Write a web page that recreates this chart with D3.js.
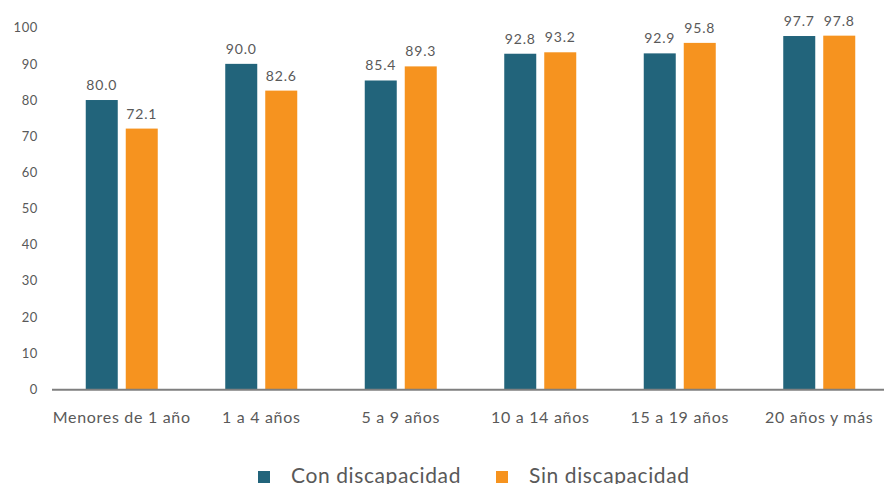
<!DOCTYPE html>
<html>
<head>
<meta charset="utf-8">
<script src="https://cdn.jsdelivr.net/npm/d3@7"></script>
<style>
  html, body { margin: 0; padding: 0; background: #fff; }
  svg { display: block; font-family: "Lato", "Open Sans", sans-serif; }
</style>
</head>
<body>
<svg id="chart" width="884" height="484"></svg>
<script>
// Age groups and percentages for each series
const categories = ["Menores de 1 año", "1 a 4 años", "5 a 9 años", "10 a 14 años", "15 a 19 años", "20 años y más"];
const conDiscapacidad = [80.0, 90.0, 85.4, 92.8, 92.9, 97.7];
const sinDiscapacidad = [72.1, 82.6, 89.3, 93.2, 95.8, 97.8];
const seriesNames = ["Con discapacidad", "Sin discapacidad"];
const seriesColors = ["#22647b", "#f6931f"];
const yTicks = [0, 10, 20, 30, 40, 50, 60, 70, 80, 90, 100];

const series = [conDiscapacidad, sinDiscapacidad];
const svg = d3.select("#chart");
const textColor = "#595959";

const x = d3.scaleBand().domain(categories).range([52, 889]).paddingInner(0).paddingOuter(0);
const x1 = d3.scaleBand().domain(d3.range(series.length)).range([x.bandwidth() / 2 - 36, x.bandwidth() / 2 + 36]).paddingInner(0.2);
const y = d3.scaleLinear().domain([0, 100]).range([389.3, 27.7]);

// Y axis labels (no axis line)
const yAxis = svg.append("g")
  .attr("transform", "translate(44,0)")
  .call(d3.axisLeft(y).tickValues(yTicks).tickSize(0).tickPadding(6).tickFormat(d3.format("d")));
yAxis.select(".domain").remove();
yAxis.selectAll("text")
  .attr("fill", textColor)
  .style("font-size", "13px")
  .style("letter-spacing", "0.6px")
  .style("font-family", "Lato, sans-serif");

// Bars
const groups = svg.append("g").selectAll("g")
  .data(categories)
  .join("g")
  .attr("transform", d => `translate(${x(d)},0)`);

groups.selectAll("rect")
  .data((d, i) => series.map((s, k) => ({ k, v: s[i] })))
  .join("rect")
  .attr("x", d => x1(d.k))
  .attr("width", x1.bandwidth())
  .attr("y", d => y(d.v))
  .attr("height", d => y(0) - y(d.v))
  .attr("fill", d => seriesColors[d.k]);

// Value labels
groups.selectAll("text")
  .data((d, i) => series.map((s, k) => ({ k, v: s[i] })))
  .join("text")
  .attr("x", d => x1(d.k) + x1.bandwidth() / 2)
  .attr("y", d => y(d.v) - 10)
  .attr("text-anchor", "middle")
  .attr("fill", textColor)
  .style("font-size", "14px")
  .style("letter-spacing", "0.8px")
  .text(d => d3.format(".1f")(d.v));

// X axis
const xAxis = svg.append("g")
  .attr("transform", `translate(0,${y(0)})`)
  .call(d3.axisBottom(x).tickSize(0).tickPadding(22));
xAxis.select(".domain")
  .attr("stroke", "#7f7f7f")
  .attr("stroke-width", 2)
  .attr("d", "M52,0.5H884");
xAxis.selectAll("text")
  .attr("fill", textColor)
  .style("font-size", "16px")
  .style("letter-spacing", "0.7px")
  .style("font-family", "Lato, sans-serif");

// Legend
const legendItems = [{ name: seriesNames[0], x: 258 }, { name: seriesNames[1], x: 496 }];
const legend = svg.append("g").selectAll("g")
  .data(legendItems)
  .join("g")
  .attr("transform", d => `translate(${d.x},471)`);
legend.append("rect")
  .attr("width", 12).attr("height", 12)
  .attr("fill", (d, i) => seriesColors[i]);
legend.append("text")
  .attr("x", 33).attr("y", 12)
  .attr("fill", textColor)
  .style("font-size", "21px")
  .style("letter-spacing", "0.6px")
  .text(d => d.name);
</script>
</body>
</html>
